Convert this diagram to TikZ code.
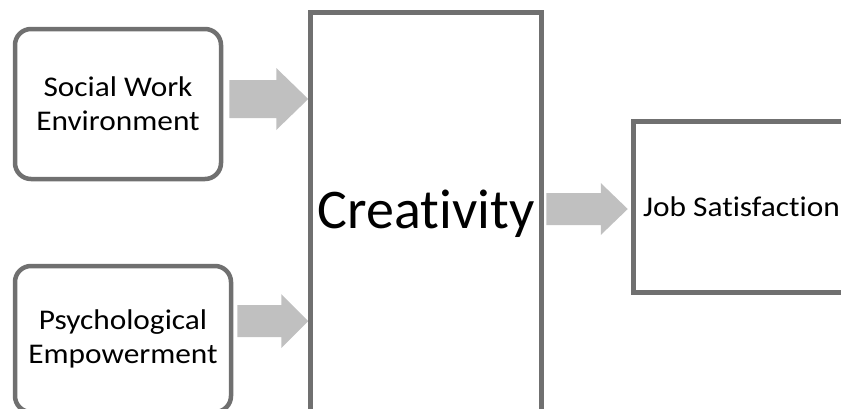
\documentclass[tikz,border=0pt]{standalone}
\usepackage{fontspec}
\setmainfont{Carlito}[Ligatures=NoCommon]
\newfontfamily\labelfont{Carlito}[Ligatures=NoCommon,FakeStretch=1.1]
\usetikzlibrary{calc}
\definecolor{framegray}{RGB}{112,112,112}
\definecolor{arrowgray}{RGB}{192,192,192}
\pgfdeclarelayer{background}
\pgfsetlayers{background,main}
% Block arrow between two nodes at the height of a reference coordinate.
% #1 source node, #2 target node, #3 height coordinate, #4 tail gap, #5 tip gap,
% #6 half shaft height, #7 half head height, #8 head length
\newcommand\blockarrow[8]{%
  \fill[arrowgray] let \p1=(#1.east |- #3), \p2=(#2.west |- #3) in
    (\x1+#4,\y1+#6) -- (\x2-#5-#8,\y1+#6) -- (\x2-#5-#8,\y1+#7) -- (\x2-#5,\y1)
    -- (\x2-#5-#8,\y1-#7) -- (\x2-#5-#8,\y1-#6) -- (\x1+#4,\y1-#6) -- cycle;}
\begin{document}
\begin{tikzpicture}[x=1pt,y=-1pt,
  box/.style={draw=framegray,line width=4.5pt,inner sep=0pt,align=center,text=black},
  roundbox/.style={box,rounded corners=16pt},
  smalltext/.style={font=\labelfont\fontsize{28.5}{34}\selectfont},
  bigtext/.style={font=\fontsize{56}{68}\selectfont}]
\useasboundingbox (0,0) rectangle (841,408);
\clip (0,0) rectangle (841,408);

% input boxes
\node[roundbox,smalltext,minimum width=206pt,minimum height=150pt] (soc) at (118,104)
  {Social Work\\Environment};
\node[roundbox,smalltext,minimum width=216pt,minimum height=146pt] (psy) at (123,339)
  {Psychological\\Empowerment};

% mediator and outcome
\node[box,bigtext,minimum width=231pt,minimum height=403pt] (cre) at (426,214) {Creativity};
\node[box,smalltext,minimum width=216pt,minimum height=171pt] (job) at (741.5,207) {Job Satisfaction};

% arrow heights
\coordinate (r1) at (0,99);
\coordinate (r2) at (0,321);
\coordinate (r3) at (0,209);

\begin{pgfonlayer}{background}
  \blockarrow{soc}{cre}{r1}{6pt}{0pt}{19pt}{31pt}{32pt}
  \blockarrow{psy}{cre}{r2}{4pt}{0pt}{16pt}{27pt}{27pt}
  \blockarrow{cre}{job}{r3}{2.5pt}{3.5pt}{16pt}{26pt}{27pt}
\end{pgfonlayer}
\end{tikzpicture}
\end{document}
